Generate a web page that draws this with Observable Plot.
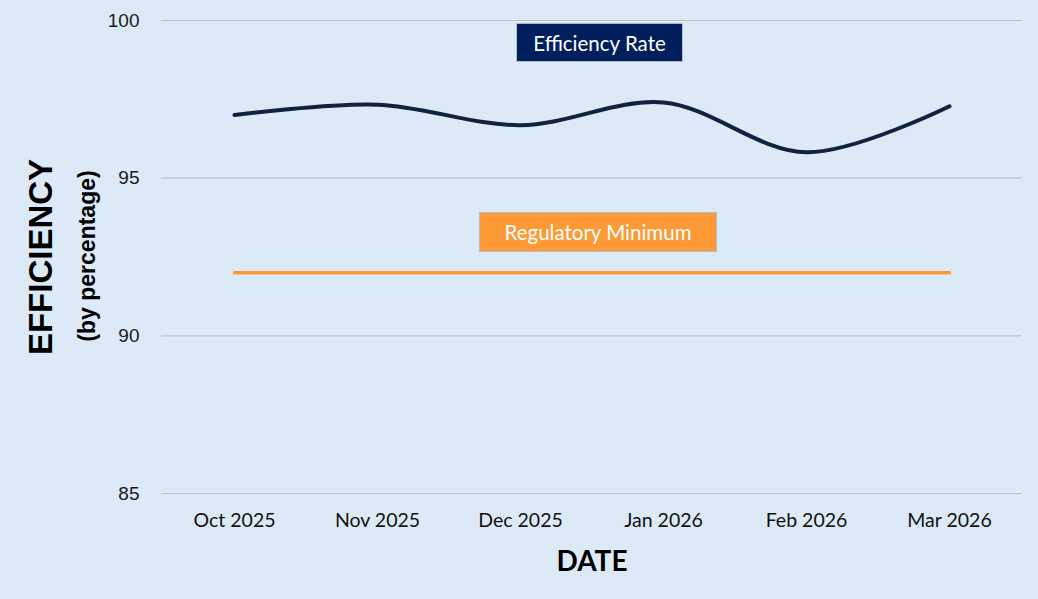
<!DOCTYPE html>
<html>
<head>
<meta charset="utf-8">
<script src="https://cdn.jsdelivr.net/npm/d3@7"></script>
<script src="https://cdn.jsdelivr.net/npm/@observablehq/plot@0.6"></script>
<style>
  html, body { margin: 0; padding: 0; background: #dce9f6; }
  #wrap { position: relative; width: 1038px; height: 599px; background: #dce9f6; overflow: hidden; }
  #wrap svg { position: absolute; left: 0; top: 0; }
  .lbl { position: absolute; white-space: nowrap; }
  .box { position: absolute; box-sizing: border-box; color: #fff; font-family: Lato, "Open Sans", sans-serif; font-size: 20.5px; display: flex; align-items: center; justify-content: center; border: 1.5px solid #b4bcc6; }
</style>
</head>
<body>
<div id="wrap"></div>
<script>
const months = ["Oct 2025", "Nov 2025", "Dec 2025", "Jan 2026", "Feb 2026", "Mar 2026"];
const efficiencyRate = [97.0, 97.33, 96.68, 97.4, 95.82, 97.28];
const regulatoryMinimum = [92, 92, 92, 92, 92, 92];
const yTicks = [85, 90, 95, 100];

const effData = months.map((m, i) => ({month: m, value: efficiencyRate[i]}));
const regData = months.map((m, i) => ({month: m, value: regulatoryMinimum[i]}));

const chart = Plot.plot({
  width: 1038,
  height: 599,
  marginLeft: 161,
  marginRight: 16,
  marginTop: 20,
  marginBottom: 106,
  style: {background: "transparent", overflow: "visible"},
  x: {type: "point", domain: months, padding: 0.5, label: null},
  y: {domain: [85, 100], label: null},
  marks: [
    Plot.ruleY(yTicks, {stroke: "#bfc3c8", strokeWidth: 1.2, strokeOpacity: 1}),
    Plot.axisY({ticks: yTicks, tickSize: 0, tickPadding: 22, label: null,
      fontSize: 19, fontFamily: "Liberation Sans, Arial, sans-serif", fill: "#1a1a1a"}),
    Plot.axisX({tickSize: 0, tickPadding: 20, label: null,
      fontSize: 19.5, fontFamily: "Lato, 'Open Sans', sans-serif", fill: "#111"}),
    Plot.line(regData, {x: "month", y: "value", stroke: "#fd9a35", strokeWidth: 3.5}),
    Plot.line(effData, {x: "month", y: "value", stroke: "#0e2341", strokeWidth: 4, curve: "catmull-rom"})
  ]
});
const wrap = document.getElementById("wrap");
wrap.appendChild(chart);

function addLabel(text, css) {
  const d = document.createElement("div");
  d.className = "lbl";
  d.textContent = text;
  Object.assign(d.style, css);
  wrap.appendChild(d);
  return d;
}
// y-axis titles (rotated)
addLabel("EFFICIENCY", {left: "41px", top: "257px", transform: "translate(-50%,-50%) rotate(-90deg)",
  fontFamily: "'Liberation Sans', Arial, sans-serif", fontWeight: "bold", fontSize: "33px", color: "#000"});
addLabel("(by percentage)", {left: "87px", top: "256px", transform: "translate(-50%,-50%) rotate(-90deg)",
  fontFamily: "'Liberation Sans', Arial, sans-serif", fontWeight: "bold", fontSize: "23px", color: "#000"});
// x-axis title
addLabel("DATE", {left: "592px", top: "560px", transform: "translate(-50%,-50%)",
  fontFamily: "Lato, 'Open Sans', sans-serif", fontWeight: "bold", fontSize: "28px", color: "#000"});

// legend boxes
function addBox(text, left, top, w, h, bg) {
  const d = document.createElement("div");
  d.className = "box";
  d.textContent = text;
  Object.assign(d.style, {left: left + "px", top: top + "px", width: w + "px", height: h + "px", background: bg});
  wrap.appendChild(d);
}
addBox("Efficiency Rate", 516, 23, 167, 39, "#001f5c");
addBox("Regulatory Minimum", 479, 212, 238, 40, "#fd9a35");
</script>
</body>
</html>
